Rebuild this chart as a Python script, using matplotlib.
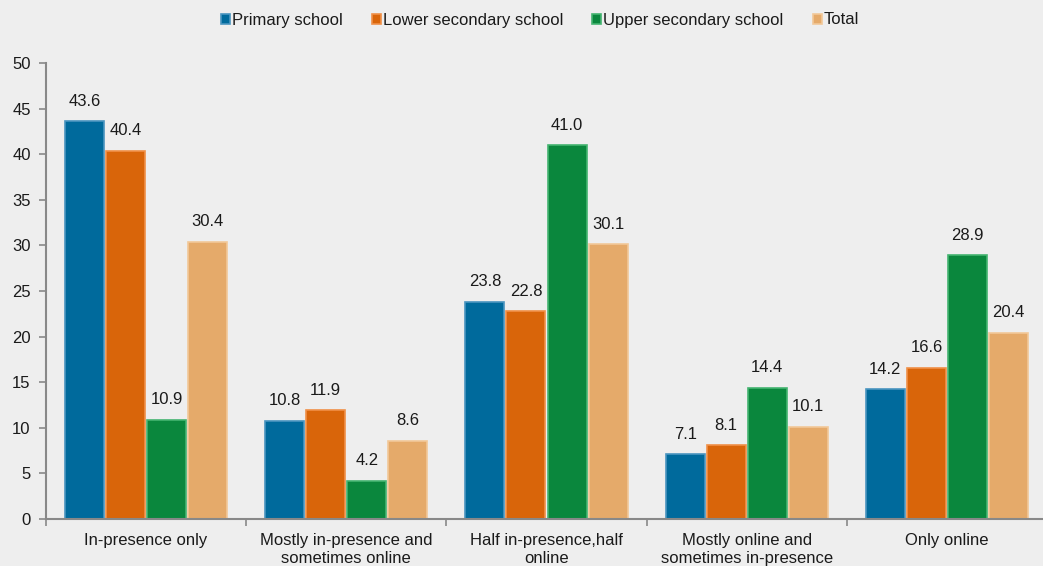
import matplotlib
matplotlib.use("Agg")
import matplotlib.pyplot as plt
import numpy as np

categories = ["In-presence only", "Mostly in-presence and\nsometimes online",
              "Half in-presence,half\nonline", "Mostly online and\nsometimes in-presence",
              "Only online"]
series_names = ["Primary school", "Lower secondary school", "Upper secondary school", "Total"]
primary = [43.6, 10.8, 23.8, 7.1, 14.2]
lower_sec = [40.4, 11.9, 22.8, 8.1, 16.6]
upper_sec = [10.9, 4.2, 41.0, 14.4, 28.9]
total = [30.4, 8.6, 30.1, 10.1, 20.4]
series = [primary, lower_sec, upper_sec, total]
colors = ["#006A9C", "#D9650A", "#0A873D", "#E5AA6A"]
edges = ["#4A95C0", "#F09048", "#44B470", "#F2C898"]
yticks = [0, 5, 10, 15, 20, 25, 30, 35, 40, 45, 50]

plt.rcParams['font.family'] = ['Liberation Sans', 'DejaVu Sans']
bg = "#EEEEEE"
fs = 12
fig = plt.figure(figsize=(10.43, 5.66), dpi=100, facecolor=bg)
ax = fig.add_axes([46/1043, 47/566, 1001/1043, 456/566], facecolor=bg)

x = np.arange(len(categories))
step = 0.205
width = 0.195
handles = []
for i, (vals, c, e, name) in enumerate(zip(series, colors, edges, series_names)):
    off = (i - 1.5) * step
    bars = ax.bar(x + off, vals, width=width, color=c, edgecolor=e, linewidth=1.2, label=name)
    handles.append(bars)
    for xi, v in zip(x + off, vals):
        ax.annotate(f"{v:.1f}", (xi, v), xytext=(0, 9), textcoords="offset points",
                    ha="center", va="bottom", fontsize=fs, color="#1a1a1a")

ax.set_xlim(-0.5, len(categories) - 0.5)
ax.set_ylim(0, 50)
ax.set_yticks(yticks)
ax.set_xticks(x)
ax.set_xticklabels(categories, fontsize=fs, color="#1a1a1a", linespacing=1.3)
ax.set_xticks(np.arange(len(categories) + 1) - 0.5, minor=True)
ax.tick_params(axis='x', which='major', length=0, pad=10)
ax.tick_params(axis='x', which='minor', length=5, color="#888888", width=1.2, direction='out')
ax.tick_params(axis='y', length=5, color="#888888", width=1.2, labelsize=fs,
               labelcolor="#1a1a1a", pad=6)
for s in ["top", "right"]:
    ax.spines[s].set_visible(False)
for s in ["left", "bottom"]:
    ax.spines[s].set_color("#888888")
    ax.spines[s].set_linewidth(1.5)

leg = fig.legend(handles=handles, labels=series_names, loc="center",
                 bbox_to_anchor=(540/1043, 1 - 20/566), ncol=4, frameon=False,
                 fontsize=fs, handlelength=0.55, handleheight=0.55, handletextpad=0.12,
                 columnspacing=1.75)
for t in leg.get_texts():
    t.set_color("#1a1a1a")

fig.savefig("out.png", dpi=100, facecolor=bg)
